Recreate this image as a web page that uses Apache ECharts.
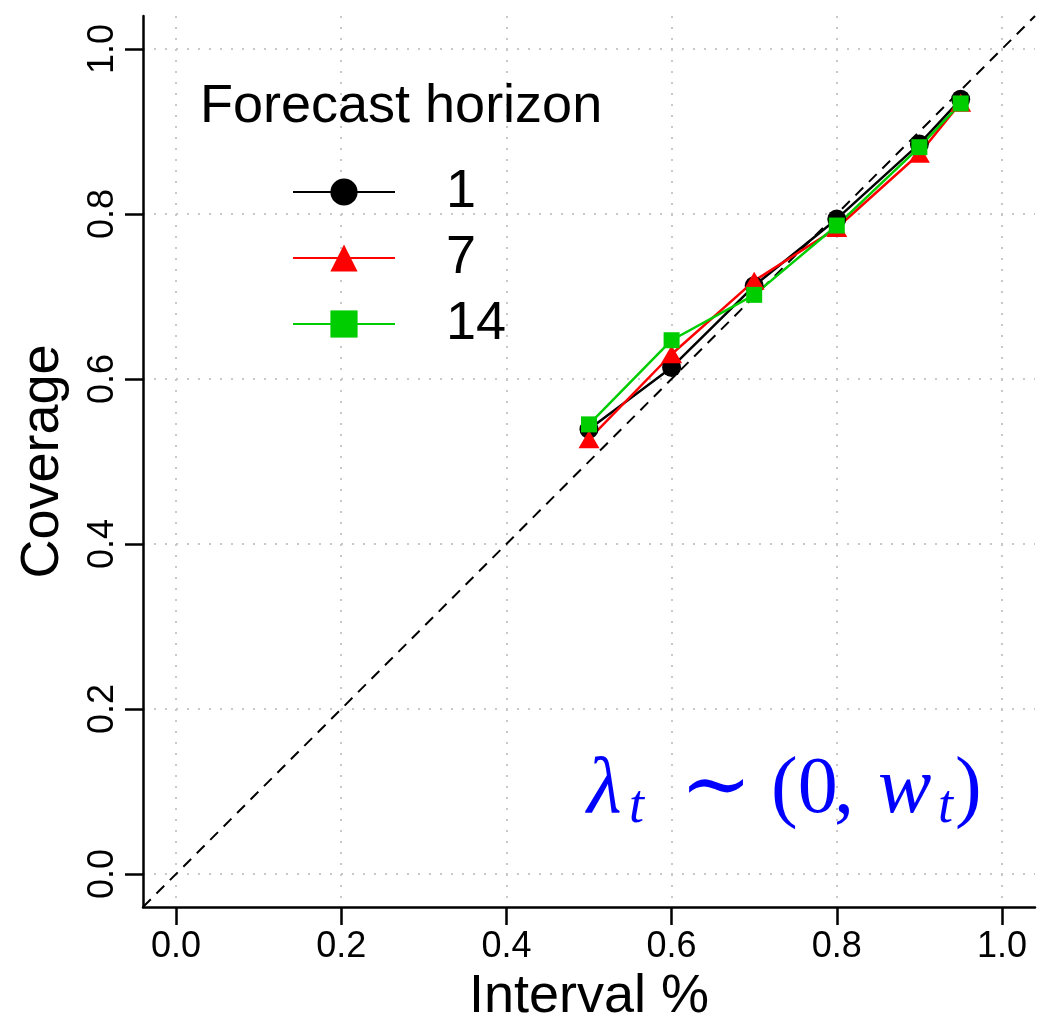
<!DOCTYPE html>
<html><head><meta charset="utf-8">
<script src="https://cdn.jsdelivr.net/npm/echarts@6/dist/echarts.min.js"></script>
<style>html,body{margin:0;padding:0;background:#fff}#c{width:1045px;height:1017px}</style>
</head><body><div id="c"></div>
<script>
// Data
const intervals = [0.5, 0.6, 0.7, 0.8, 0.9, 0.95];
const horizon1  = [0.539, 0.614, 0.713, 0.794, 0.885, 0.939];
const horizon7  = [0.527, 0.630, 0.719, 0.783, 0.873, 0.935];
const horizon14 = [0.545, 0.647, 0.702, 0.786, 0.881, 0.934];
const horizonNames = ['1', '7', '14'];
const tickValues = [0, 0.2, 0.4, 0.6, 0.8, 1.0];
const diagonal = [-0.04, 1.04];

const chart = echarts.init(document.getElementById('c'), null, {renderer: 'canvas'});
const SANS = 'Liberation Sans, Arial, Helvetica, sans-serif';
const SERIF = 'Liberation Serif, DejaVu Serif, serif';

function axisCommon() {
  return {
    type: 'value', min: -0.04, max: 1.04,
    axisLine: {show: true, onZero: false, lineStyle: {color: '#000', width: 2.5}},
    axisTick: {show: true, length: 18, inside: false, lineStyle: {color: '#000', width: 2.5}, customValues: tickValues},
    axisLabel: {show: true, margin: 22, fontSize: 36, fontFamily: SANS, color: '#000',
      customValues: tickValues, formatter: v => v.toFixed(1)},
    splitLine: {show: true, lineStyle: {color: '#c8c8c8', width: 2, type: [2, 9]}},
    nameTextStyle: {fontSize: 54, fontFamily: SANS, color: '#000'},
    nameLocation: 'middle'
  };
}
const xAxis = Object.assign(axisCommon(), {name: 'Interval %', nameGap: 55});
const yAxis = Object.assign(axisCommon(), {name: 'Coverage', nameGap: 73, nameRotate: 90});
yAxis.axisLabel.rotate = 90;

function mk(name, vals, color, symbol, size) {
  return {
    type: 'line', name: name,
    data: intervals.map((x, i) => [x, vals[i]]),
    symbol: symbol, symbolSize: size,
    itemStyle: {color: color},
    lineStyle: {color: color, width: 2.5},
    z: 3
  };
}

const option = {
  animation: false,
  backgroundColor: '#fff',
  grid: {left: 143, top: 16, width: 892, height: 891, containLabel: false, outerBoundsMode: 'none'},
  xAxis: xAxis,
  yAxis: yAxis,
  title: {text: 'Forecast horizon', left: 200, top: 80, padding: 0,
    textStyle: {fontSize: 54, fontWeight: 'normal', fontFamily: SANS, color: '#000'}},
  legend: {
    data: horizonNames, orient: 'vertical', left: 292, top: 165, padding: 0,
    itemWidth: 102, itemHeight: 34, itemGap: 12,
    textStyle: {fontSize: 54, fontFamily: SANS, color: '#000', lineHeight: 54, padding: [0, 0, 0, 46]},
    selectedMode: false
  },
  series: [
    {type: 'line', name: 'diag', data: diagonal.map(v => [v, v]), symbol: 'none', silent: true,
     lineStyle: {color: '#000', width: 2, type: [11, 8]}, z: 1},
    mk(horizonNames[0], horizon1, '#000000', 'circle', 19),
    mk(horizonNames[1], horizon7, '#ff0000', 'triangle', [21, 18]),
    mk(horizonNames[2], horizon14, '#00cd00', 'rect', 16)
  ],
  graphic: {
    type: 'group', silent: true,
    children: [
      {type: 'text', x: 587, y: 791, style: {text: 'λ', font: 'italic 80px ' + SERIF, fill: '#0000ff', verticalAlign: 'middle'}},
      {type: 'text', x: 629, y: 808, style: {text: 't', font: 'italic 54px ' + SERIF, fill: '#0000ff', verticalAlign: 'middle'}},
      {type: 'text', x: 680, y: 791, style: {text: '∼', font: '86px DejaVu Serif, serif', fill: '#0000ff', verticalAlign: 'middle'}},
      {type: 'text', x: 771, y: 791, style: {text: '(0', font: '80px ' + SERIF, fill: '#0000ff', verticalAlign: 'middle'}},
      {type: 'text', x: 834, y: 791, style: {text: ',', font: '80px ' + SERIF, fill: '#0000ff', verticalAlign: 'middle'}},
      {type: 'text', x: 878, y: 791, style: {text: 'w', font: 'italic 80px ' + SERIF, fill: '#0000ff', verticalAlign: 'middle'}},
      {type: 'text', x: 938, y: 808, style: {text: 't', font: 'italic 54px ' + SERIF, fill: '#0000ff', verticalAlign: 'middle'}},
      {type: 'text', x: 955, y: 791, style: {text: ')', font: '80px ' + SERIF, fill: '#0000ff', verticalAlign: 'middle'}}
    ]
  }
};
chart.setOption(option);
</script>
</body></html>
